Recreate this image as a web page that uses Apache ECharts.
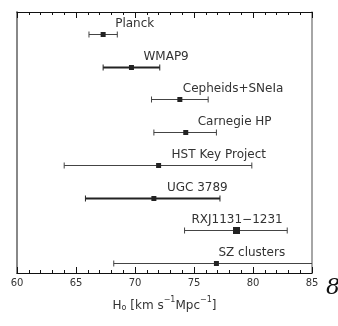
<!DOCTYPE html>
<html>
<head>
<meta charset="utf-8">
<script src="https://cdn.jsdelivr.net/npm/echarts@6/dist/echarts.min.js"></script>
<style>
  html, body { margin: 0; padding: 0; background: #fff; }
  #chart { width: 338px; height: 326px; }
</style>
</head>
<body>
<div id="chart"></div>
<script>
// H0 measurements
var names = ['Planck', 'WMAP9', 'Cepheids+SNeIa', 'Carnegie HP', 'HST Key Project', 'UGC 3789', 'RXJ1131\u22121231', 'SZ clusters'];
var centers = [67.3, 69.7, 73.8, 74.3, 72.0, 71.6, 78.6, 76.9];
var lows = [66.1, 67.3, 71.4, 71.6, 64.0, 65.8, 74.2, 68.2];
var highs = [68.5, 72.1, 76.2, 76.9, 79.9, 77.2, 82.9, 87.6];
var xTicks = [60, 65, 70, 75, 80, 85];

var chart = echarts.init(document.getElementById('chart'));

// label offsets (px) from the marker, and which bars are drawn heavy
var labelDx = [12, 12, 3, 12, 13, 13, -45, 2];
var heavy = ['WMAP9', 'UGC 3789'];

var rows = names.map(function (n, i) {
  return [i, centers[i], lows[i], highs[i]];
});

var option = {
  animation: false,
  grid: { left: 17, right: 26, top: 12, bottom: 53 },
  xAxis: [{
    type: 'value', min: 60, max: 85, interval: 5,
    axisLine: { onZero: false, lineStyle: { color: '#111', width: 1 } },
    axisTick: { inside: true, length: 6, lineStyle: { color: '#111' } },
    minorTick: { show: true, splitNumber: 5, length: 3, lineStyle: { color: '#111' } },
    splitLine: { show: false },
    axisLabel: { color: '#333', fontSize: 10, fontFamily: 'DejaVu Sans', margin: 5,
      formatter: function (v) { return xTicks.indexOf(v) >= 0 ? String(v) : ''; } },
    name: '{t|H}{sub|o}{t| [km s}{sup|\u22121}{t|Mpc}{sup|\u22121}{t|]}',
    nameLocation: 'middle', nameGap: 23,
    nameTextStyle: {
      rich: {
        t: { fontSize: 12, color: '#333', fontFamily: 'DejaVu Sans', lineHeight: 16, verticalAlign: 'bottom' },
        sub: { fontSize: 8, color: '#333', fontFamily: 'DejaVu Sans', lineHeight: 8, verticalAlign: 'bottom' },
        sup: { fontSize: 8, color: '#333', fontFamily: 'DejaVu Sans', lineHeight: 8, verticalAlign: 'top' }
      }
    }
  }, {
    type: 'value', min: 60, max: 85, interval: 5, position: 'top',
    axisLine: { onZero: false, lineStyle: { color: '#111', width: 1 } },
    axisTick: { inside: true, length: 6, lineStyle: { color: '#111' } },
    minorTick: { show: true, splitNumber: 5, length: 3, lineStyle: { color: '#111' } },
    splitLine: { show: false },
    axisLabel: { show: false }
  }],
  yAxis: [{
    type: 'value', min: -0.67, max: 7.3, inverse: true,
    axisLine: { show: true, onZero: false, lineStyle: { color: '#888', width: 2 } },
    axisTick: { show: false }, axisLabel: { show: false }, splitLine: { show: false }
  }, {
    type: 'value', min: -0.67, max: 7.3, inverse: true, position: 'right',
    axisLine: { show: true, onZero: false, lineStyle: { color: '#888', width: 1.5 } },
    axisTick: { show: false }, axisLabel: { show: false }, splitLine: { show: false }
  }],
  graphic: [
    { type: 'text', left: 326, top: 277, style: { text: '8', font: 'italic 22px "DejaVu Serif"', fill: '#111' } },
    { type: 'text', left: 205, top: -9, style: { text: '2', font: '12px "DejaVu Sans"', fill: '#111' } }
  ],
  series: [{
    type: 'custom',
    clip: true,
    data: rows,
    renderItem: function (params, api) {
      var i = api.value(0);
      var c = api.coord([api.value(1), i]);
      var lo = api.coord([api.value(2), i]);
      var hi = api.coord([api.value(3), i]);
      var w = heavy.indexOf(names[i]) >= 0 ? 2 : 1;
      var col = w > 1 ? '#222' : '#444';
      var ms = names[i] === 'RXJ1131\u22121231' ? 7 : 5;
      var y = Math.round(c[1]) + 0.5;
      return {
        type: 'group',
        children: [
          { type: 'line', shape: { x1: lo[0], y1: y, x2: hi[0], y2: y }, style: { stroke: col, lineWidth: w } },
          { type: 'line', shape: { x1: lo[0], y1: y - 3, x2: lo[0], y2: y + 3 }, style: { stroke: col, lineWidth: 1 } },
          { type: 'line', shape: { x1: hi[0], y1: y - 3, x2: hi[0], y2: y + 3 }, style: { stroke: col, lineWidth: 1 } },
          { type: 'rect', shape: { x: c[0] - ms / 2, y: y - ms / 2, width: ms, height: ms }, style: { fill: '#222' } },
          { type: 'text', x: c[0] + labelDx[i], y: y - 11,
            style: { text: names[i], fill: '#333', font: '12px "DejaVu Sans"', verticalAlign: 'middle', align: 'left' } }
        ]
      };
    }
  }]
};

chart.setOption(option);
</script>
</body>
</html>
